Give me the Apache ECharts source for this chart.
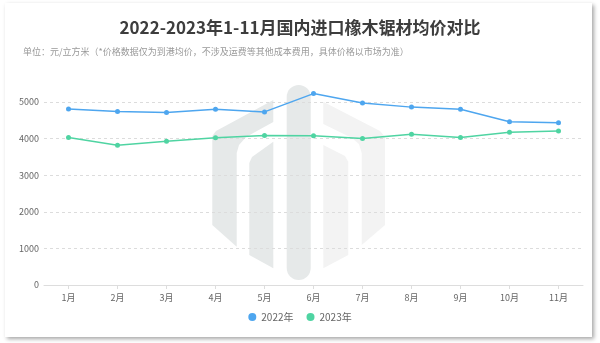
<!DOCTYPE html>
<html>
<head>
<meta charset="utf-8">
<script src="https://cdn.jsdelivr.net/npm/echarts@6/dist/echarts.min.js"></script>
<style>
  html, body { margin: 0; padding: 0; background: #ffffff; }
  #chart { width: 600px; height: 343px; }
</style>
</head>
<body>
<div id="chart"></div>
<script>
// Monthly average import price of oak lumber (yuan / m³)
const months = ['1月', '2月', '3月', '4月', '5月', '6月', '7月', '8月', '9月', '10月', '11月'];
const price2022 = [4810, 4740, 4710, 4800, 4730, 5230, 4970, 4860, 4800, 4460, 4430];
const price2023 = [4030, 3820, 3930, 4020, 4085, 4075, 4000, 4120, 4030, 4175, 4210];
const seriesNames = ['2022年', '2023年'];

const FONT = '"Noto Sans CJK SC", "Noto Sans", sans-serif';
const BLUE = '#4ea6ef';
const GREEN = '#4fd4a2';

const chart = echarts.init(document.getElementById('chart'), null, { renderer: 'canvas' });

// Background logo mark: left half darker, right half lighter
const markDark = '#e6e9e9';
const markLight = '#f3f3f3';

chart.setOption({
  backgroundColor: '#ffffff',
  animation: false,
  textStyle: { fontFamily: FONT },
  title: [
    {
      text: '2022-2023年1-11月国内进口橡木锯材均价对比',
      left: 'center',
      top: 14,
      textStyle: { fontSize: 17, fontWeight: 'bold', color: '#3d3d3d', fontFamily: FONT }
    },
    {
      text: '单位：元/立方米（*价格数据仅为到港均价，不涉及运费等其他成本费用，具体价格以市场为准）',
      left: 18,
      top: 42,
      textStyle: { fontSize: 9, fontWeight: 'normal', color: '#999999', fontFamily: FONT }
    }
  ],
  graphic: [
    {
      type: 'rect', z: -30, silent: true,
      shape: { x: 5, y: 3, width: 587, height: 334 },
      style: { fill: '#ffffff', shadowBlur: 4, shadowColor: 'rgba(0,0,0,0.35)', shadowOffsetX: 2, shadowOffsetY: 2 }
    },
    {
      type: 'polygon', z: -20, silent: true,
      shape: { points: [[212.3, 136], [216, 131], [273.3, 100], [273.3, 122], [246, 137], [239, 145], [236.7, 153], [236.7, 246.7], [212.3, 225]] },
      style: { fill: markDark }
    },
    {
      type: 'polygon', z: -20, silent: true,
      shape: { points: [[249.3, 163], [252, 157], [273.3, 141.7], [273.3, 268.3], [249.3, 255]] },
      style: { fill: markDark }
    },
    {
      type: 'rect', z: -20, silent: true,
      shape: { x: 286.7, y: 85, width: 24, height: 195, r: 12 },
      style: { fill: markDark }
    },
    {
      type: 'polygon', z: -20, silent: true,
      shape: { points: [[323.3, 101.7], [380, 131], [385, 137], [385, 225], [361.7, 245], [361.7, 153], [359, 144], [352, 138], [323.3, 124]] },
      style: { fill: markLight }
    },
    {
      type: 'polygon', z: -20, silent: true,
      shape: { points: [[323.3, 145], [345, 156], [348.3, 162], [348.3, 255], [323.3, 268.3]] },
      style: { fill: markLight }
    }
  ],
  legend: {
    data: seriesNames,
    left: 'center',
    top: 307,
    icon: 'circle',
    itemWidth: 8,
    itemHeight: 8,
    itemGap: 13,
    textStyle: { fontSize: 10, color: '#666666', fontFamily: FONT }
  },
  grid: { left: 44, right: 17, top: 102, bottom: 58, containLabel: false },
  xAxis: {
    type: 'category',
    data: months,
    boundaryGap: true,
    axisLine: { show: true, lineStyle: { color: '#dddddd', width: 1 } },
    axisTick: { show: true, alignWithLabel: true, length: 4, lineStyle: { color: '#dddddd' } },
    axisLabel: { fontSize: 9, color: '#666666', margin: 8, fontFamily: FONT }
  },
  yAxis: {
    type: 'value',
    min: 0,
    max: 5000,
    interval: 1000,
    axisLine: { show: false },
    axisTick: { show: false },
    axisLabel: { fontSize: 9, color: '#666666', margin: 5, fontFamily: FONT, formatter: (v) => String(v) },
    splitLine: { lineStyle: { type: [3, 3], color: '#dcdcdc', width: 1 } }
  },
  series: [
    {
      name: seriesNames[0],
      type: 'line',
      data: price2022,
      clip: false,
      symbol: 'circle',
      symbolSize: 5,
      itemStyle: { color: BLUE },
      lineStyle: { color: BLUE, width: 1.5 }
    },
    {
      name: seriesNames[1],
      type: 'line',
      data: price2023,
      clip: false,
      symbol: 'circle',
      symbolSize: 5,
      itemStyle: { color: GREEN },
      lineStyle: { color: GREEN, width: 1.5 }
    }
  ]
});
</script>
</body>
</html>
